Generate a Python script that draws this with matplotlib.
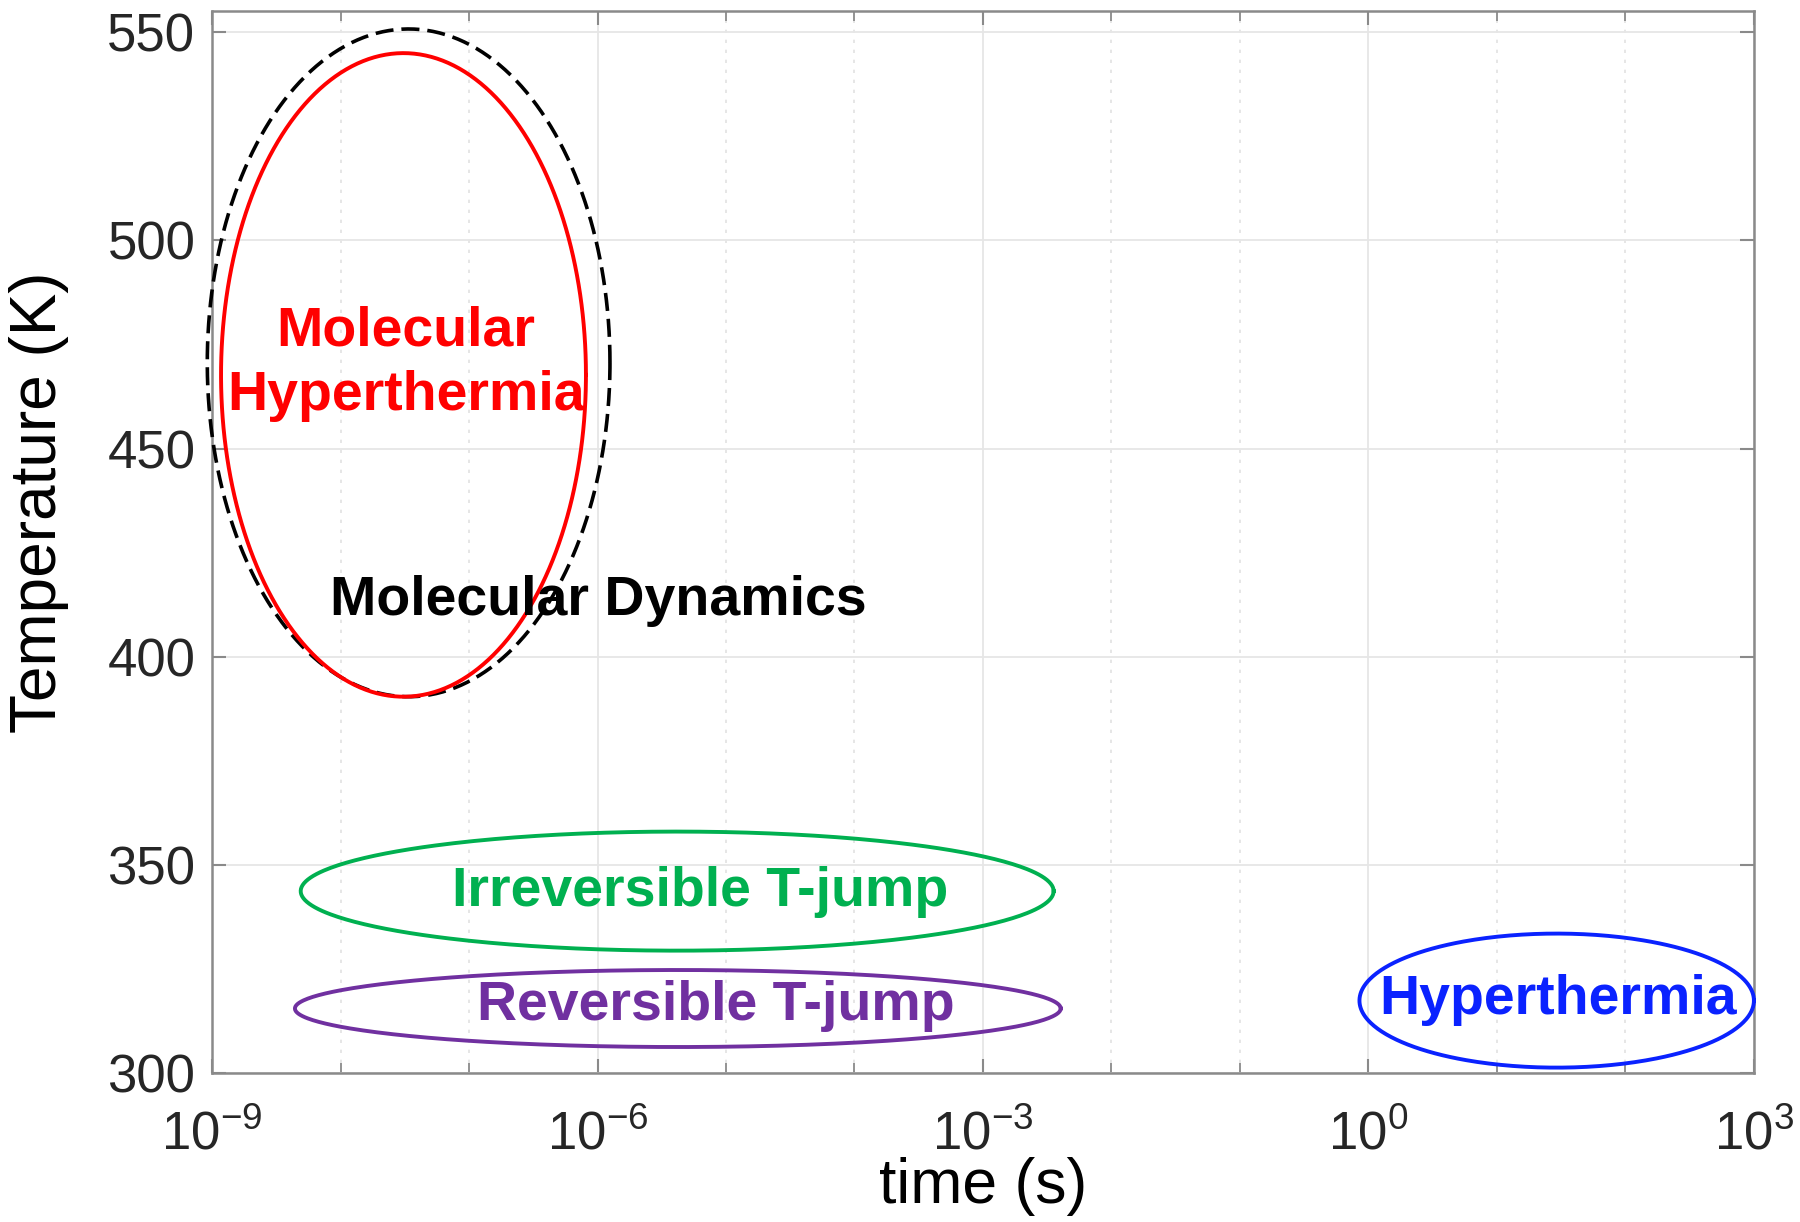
import numpy as np
import matplotlib
matplotlib.use('Agg')
import matplotlib.pyplot as plt
from matplotlib.ticker import FixedLocator, FixedFormatter

plt.rcParams['font.family'] = ['Liberation Sans', 'DejaVu Sans']
plt.rcParams['mathtext.fontset'] = 'custom'
plt.rcParams['mathtext.rm'] = 'Liberation Sans'

# ========== [ DATA ] ============================
# regions: centre (log10 time, K) and half-extent (decades, K)
region_names = ['Molecular Dynamics', 'Molecular Hyperthermia', 'Irreversible T-jump',
                'Reversible T-jump', 'Hyperthermia']
center_logt = [-7.47, -7.51, -5.38, -5.375, 1.465]
center_temp = [470.6, 467.7, 343.7, 315.5, 317.4]
half_logt = [1.567, 1.42, 2.93, 2.98, 1.535]
half_temp = [80.2, 77.3, 14.3, 9.25, 16.1]

# labels: text, log10 time, K
label_texts = ['Molecular\nHyperthermia', 'Molecular Dynamics', 'Irreversible T-jump',
               'Reversible T-jump', 'Hyperthermia']
label_logt = [-7.49, -5.99, -5.205, -5.076, 1.478]
label_temp = [470.4, 413.5, 343.6, 316.0, 317.6]

xtick_exp = [-9, -6, -3, 0, 3]
ytick_vals = [300, 350, 400, 450, 500, 550]

# styles
COLORS = {'Molecular Dynamics': 'black', 'Molecular Hyperthermia': '#FF0000',
          'Irreversible T-jump': '#00B050', 'Reversible T-jump': '#7030A0',
          'Hyperthermia': '#0A22FF'}
LABEL_COLORS = ['#FF0000', 'black', '#00B050', '#7030A0', '#0A22FF']

# ========== [ PLOTTING ] ============================
fig = plt.figure(figsize=(18, 12.22), dpi=100)
ax = fig.add_axes([0.1178, 0.1219, 0.8566, 0.8687])
ax.set_xscale('log')

t = np.linspace(0, 2 * np.pi, 400)
for name, cx, cy, a, b in zip(region_names, center_logt, center_temp, half_logt, half_temp):
    xs = 10 ** (cx + a * np.cos(t))
    ys = cy + b * np.sin(t)
    if name == 'Molecular Dynamics':
        ax.plot(xs, ys, color='black', lw=2.6, dashes=(5, 2.2), clip_on=False, zorder=3)
    else:
        ax.plot(xs, ys, color=COLORS[name], lw=2.8, clip_on=False, zorder=3)

for txt, lx, ly, c in zip(label_texts, label_logt, label_temp, LABEL_COLORS):
    ax.text(10 ** lx, ly, txt, color=c, fontsize=40, fontweight='bold',
            ha='center', va='center', linespacing=1.3, zorder=4)

ax.set_xlim(1e-9, 1e3)
ax.set_ylim(300, 555)

xt = [10.0 ** e for e in xtick_exp]
ax.xaxis.set_major_locator(FixedLocator(xt))
ax.xaxis.set_major_formatter(FixedFormatter(['$\\mathregular{10^{%d}}$' % e for e in xtick_exp]))
minor = [10.0 ** e for e in range(-9, 4) if e not in xtick_exp]
ax.xaxis.set_minor_locator(FixedLocator(minor))
ax.xaxis.set_minor_formatter(FixedFormatter([''] * len(minor)))
ax.set_yticks(ytick_vals)

ax.grid(True, which='major', color='#e6e6e6', lw=1.3, ls='-')
ax.grid(True, which='minor', axis='x', color='#e2e2e2', lw=1.2, ls=(0, (2, 4)))
ax.set_axisbelow(True)

for s in ax.spines.values():
    s.set_color('#8a8a8a')
    s.set_linewidth(1.8)
ax.tick_params(which='both', direction='in', top=True, right=True, color='#8a8a8a',
               labelcolor='#262626', labelsize=38)
ax.tick_params(which='major', length=10, width=1.5)
ax.tick_params(which='minor', length=7, width=1.3)
ax.tick_params(axis='x', which='major', pad=27)
ax.tick_params(axis='y', which='major', pad=12)

ax.set_xlabel('time (s)', fontsize=45)
ax.set_ylabel('Temperature (K)', fontsize=46)
ax.xaxis.set_label_coords(0.5, -0.079)
ax.yaxis.set_label_coords(-0.093, 0.538)

plt.savefig('out.png', dpi=100)
